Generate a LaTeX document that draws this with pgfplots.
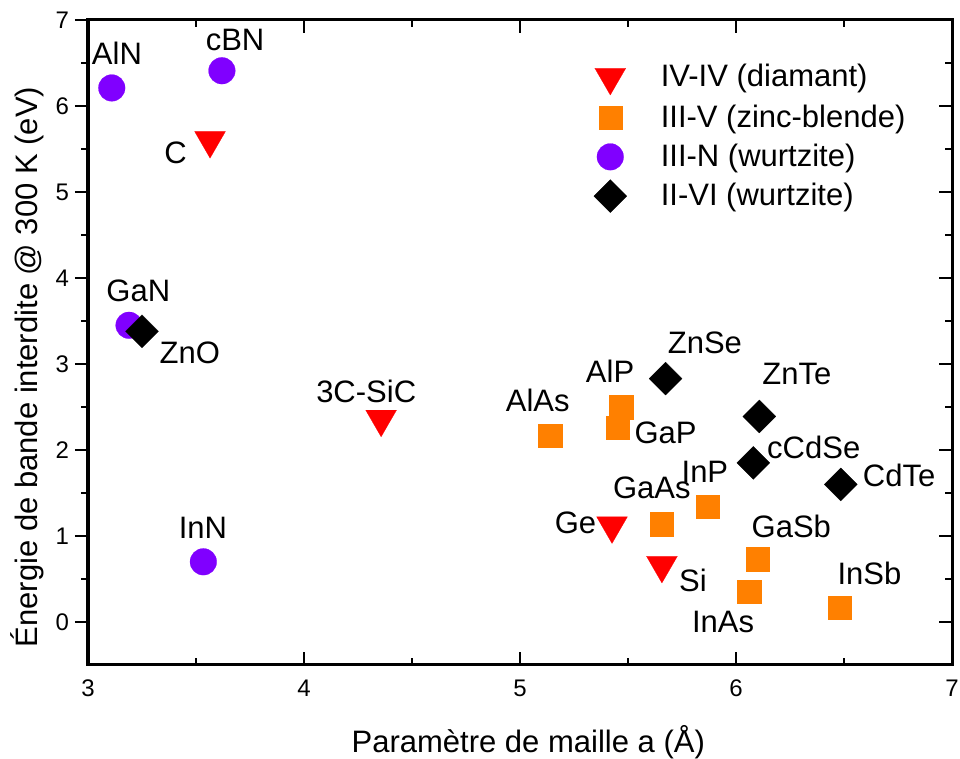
\documentclass[border=0pt]{standalone}
\usepackage{pgfplots}
\pgfplotsset{compat=1.18}
\usepackage{fontspec}
\setmainfont{Liberation Sans}

\definecolor{cIV}{RGB}{255,0,0}
\definecolor{cIIIV}{RGB}{255,128,0}
\definecolor{cIIIN}{RGB}{128,0,255}
\newcommand\lab{\fontsize{15.5}{18}\selectfont}
\newcommand\tck{\fontsize{12}{14}\selectfont}

% lattice constant (A) vs band gap at 300 K (eV)
\pgfplotstableread{
a     Eg
3.565 5.60
4.357 2.36
5.426 1.12
5.657 0.66
}\tabIV
\pgfplotstableread{
a     Eg
5.140 2.17
5.468 2.50
5.452 2.26
5.657 1.14
5.870 1.34
6.099 0.73
6.060 0.35
6.480 0.17
}\tabIIIV
\pgfplotstableread{
a     Eg
3.110 6.21
3.620 6.41
3.190 3.45
3.534 0.70
}\tabIIIN
\pgfplotstableread{
a     Eg
3.250 3.38
5.674 2.83
6.108 2.39
6.080 1.85
6.485 1.60
}\tabIIVI

\begin{document}
\begin{tikzpicture}
\pgfplotsset{
  box/.style={scale only axis, width=432pt, height=322.5pt,
    xmin=3, xmax=7, ymin=-0.5, ymax=7,
    xtick={3,4,5,6,7}, ytick={0,1,2,3,4,5,6,7},
    minor x tick num=1, minor y tick num=1,
    major tick length=6.5pt, minor tick length=3.5pt,
    every tick/.style={line width=1pt, black},
    axis line style={line width=1.5pt}},
}
\begin{axis}[box, name=ax,
  tick align=inside,
  xtick pos=both, ytick pos=right, yticklabel pos=left,
  ticklabel style={font=\tck},
  /pgf/number format/assume math mode=true,
  xticklabel style={yshift=-4pt},
  yticklabel style={xshift=-6pt},
  xlabel={Paramètre de maille a (Å)},
  ylabel={Énergie de bande interdite @ 300 K (eV)},
  label style={font=\lab},
  xlabel style={at={(axis description cs:0.5096,-0.1364)}, anchor=base},
  ylabel style={at={(axis description cs:-0.059,0.462)}, anchor=base, rotate=0},
  legend style={at={(axis description cs:0.578,0.944)}, anchor=north west,
    draw=none, fill=none, font=\lab, row sep=2.9pt, column sep=15pt},
  legend cell align=left,
]
\addplot[only marks, mark=triangle*, mark size=8.9pt,
  mark options={rotate=180, fill=cIV, draw=cIV, line width=0.1pt}] table {\tabIV};
\addlegendentry{IV-IV (diamant)}
\addplot[only marks, mark=square*, mark size=5.83pt,
  mark options={fill=cIIIV, draw=cIIIV, line width=0.1pt}] table {\tabIIIV};
\addlegendentry{III-V (zinc-blende)}
\addplot[only marks, mark=*, mark size=6.67pt,
  mark options={fill=cIIIN, draw=cIIIN, line width=0.1pt}] table {\tabIIIN};
\addlegendentry{III-N (wurtzite)}
\addplot[only marks, mark=square*, mark size=5.83pt,
  mark options={rotate=45, fill=black, draw=black, line width=0.1pt}] table {\tabIIVI};
\addlegendentry{II-VI (wurtzite)}

\begin{scope}[every node/.style={font=\lab, inner sep=0pt}]
\node at (axis cs:3.134,6.616) {AlN};
\node at (axis cs:3.681,6.767) {cBN};
\node at (axis cs:3.405,5.459) {C};
\node at (axis cs:3.233,3.849) {GaN};
\node at (axis cs:3.471,3.128) {ZnO};
\node at (axis cs:4.288,2.686) {3C-SiC};
\node at (axis cs:3.532,1.095) {InN};
\node at (axis cs:5.856,3.244) {ZnSe};
\node at (axis cs:5.417,2.910) {AlP};
\node at (axis cs:5.082,2.581) {AlAs};
\node at (axis cs:5.674,2.194) {GaP};
\node at (axis cs:6.282,2.884) {ZnTe};
\node at (axis cs:6.360,2.035) {cCdSe};
\node at (axis cs:5.856,1.748) {InP};
\node at (axis cs:5.610,1.555) {GaAs};
\node at (axis cs:6.755,1.709) {CdTe};
\node at (axis cs:5.257,1.157) {Ge};
\node at (axis cs:6.256,1.116) {GaSb};
\node at (axis cs:5.801,0.488) {Si};
\node at (axis cs:6.618,0.566) {InSb};
\node at (axis cs:5.940,0.003) {InAs};
\end{scope}
\end{axis}
% outward ticks on the left edge
\begin{axis}[box, hide x axis, axis y line*=left, tick align=outside,
  yticklabels={}, axis line style={line width=1.5pt}]
\end{axis}
\pgfresetboundingbox
\path ([shift={(-44pt,-46.5pt)}]ax.south west) rectangle ([shift={(4pt,10pt)}]ax.north east);
\end{tikzpicture}
\end{document}
